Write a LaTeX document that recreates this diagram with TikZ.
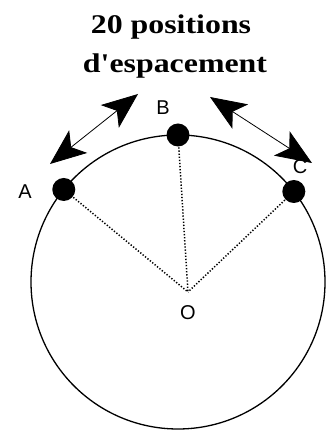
\documentclass[tikz,border=0pt]{standalone}
\usepackage{fontspec}
\setmainfont{Liberation Serif}
\setsansfont{Liberation Sans}
\usetikzlibrary{arrows.meta}

\begin{document}
\begin{tikzpicture}[x=1pt,y=1pt,font=\sffamily\fontsize{20}{24}\selectfont,
  titre/.style={font=\rmfamily\bfseries\fontsize{27}{32}\selectfont,anchor=base},
  >={Stealth[length=36pt,width=29pt,inset=9pt]}]
  \useasboundingbox (0,0) rectangle (327,431);
  \coordinate (M) at (178,149);
  \coordinate (O) at (188,139);
  \draw[line width=1.3pt] (M) circle (147);
  \foreach \n/\a in {A/141,B/90,C/38} {
    \draw[line width=1.5pt,dash pattern=on 1.3pt off 1.8pt] (M) ++(\a:147) coordinate (\n) -- (O);
    \fill (\n) circle (11.5);
  }
  \node (labA) at (25,239) {A};
  \node (labB) at (163,323) {B};
  \node (labC) at (300,264) {C};
  \node (labO) at (188,118) {O};
  \node[titre] (t1) at (171,397) {\scalebox{1.18}[1]{20 positions}};
  \node[titre] (t2) at (175,358) {\scalebox{1.18}[1]{d\textquotesingle espacement}};
  % fleches d'espacement
  \coordinate (g1) at (50,267);
  \coordinate (g2) at (138,337);
  \coordinate (d1) at (210,334);
  \coordinate (d2) at (312,268);
  \draw[<->,line width=0.8pt] (g1) -- (g2);
  \draw[<->,line width=0.8pt] (d1) -- (d2);
\end{tikzpicture}
\end{document}
